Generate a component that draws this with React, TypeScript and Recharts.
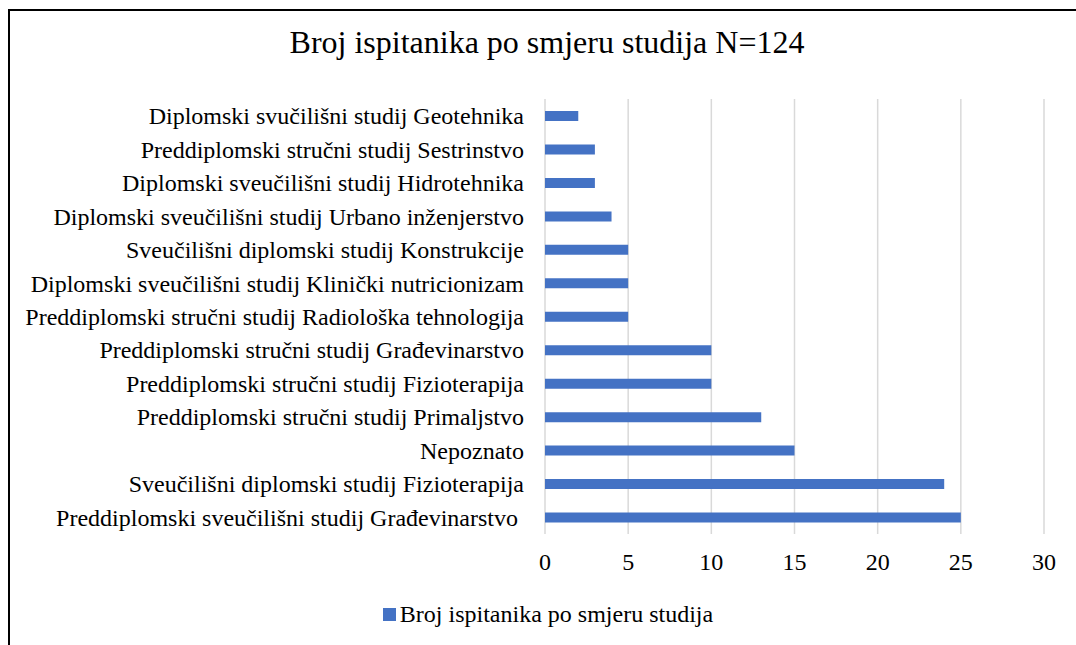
import React from 'react';
import { BarChart, Bar, XAxis, YAxis, CartesianGrid, Legend } from 'recharts';

const categories = [
  'Diplomski svučilišni studij Geotehnika',
  'Preddiplomski stručni studij Sestrinstvo',
  'Diplomski sveučilišni studij Hidrotehnika',
  'Diplomski sveučilišni studij Urbano inženjerstvo',
  'Sveučilišni diplomski studij Konstrukcije',
  'Diplomski sveučilišni studij Klinički nutricionizam',
  'Preddiplomski stručni studij Radiološka tehnologija',
  'Preddiplomski stručni studij Građevinarstvo',
  'Preddiplomski stručni studij Fizioterapija',
  'Preddiplomski stručni studij Primaljstvo',
  'Nepoznato',
  'Sveučilišni diplomski studij Fizioterapija',
  'Preddiplomski sveučilišni studij Građevinarstvo\u00a0',
];
const counts = [2, 3, 3, 4, 5, 5, 5, 10, 10, 13, 15, 24, 25];
const xTicks = [0, 5, 10, 15, 20, 25, 30];

const seriesName = 'Broj ispitanika po smjeru studija';
const title = 'Broj ispitanika po smjeru studija N=124';

const data = categories.map((name, i) => ({ name, value: counts[i] }));

const FONT = '"Liberation Serif", "Times New Roman", serif';

function LegendContent() {
  return (
    <div
      style={{
        height: 40,
        display: 'flex',
        alignItems: 'center',
        justifyContent: 'center',
        transform: 'translateX(26px)',
        fontFamily: FONT,
        fontSize: 24,
        color: '#000',
      }}
    >
      <span style={{ width: 13, height: 13, background: '#4472C4', marginRight: 4, display: 'inline-block' }} />
      <span>{seriesName}</span>
    </div>
  );
}

export default function App() {
  return (
    <div
      style={{
        position: 'fixed',
        left: 0,
        top: 0,
        width: 1076,
        height: 645,
        overflow: 'hidden',
        background: '#fff',
      }}
    >
      <div
        style={{
          position: 'absolute',
          left: 8,
          top: 9,
          width: 1200,
          height: 800,
          borderLeft: '2px solid #000',
          borderTop: '2px solid #000',
        }}
      />
      <div
        style={{
          position: 'absolute',
          left: 47,
          top: 24,
          width: 1000,
          textAlign: 'center',
          fontFamily: FONT,
          fontSize: 32,
          color: '#000',
          lineHeight: 'normal',
        }}
      >
        {title}
      </div>
      <div style={{ position: 'absolute', left: 0, top: 0 }}>
        <BarChart
          width={1076}
          height={645}
          data={data}
          layout="vertical"
          margin={{ top: 99, right: 32, left: 0, bottom: 11 }}
        >
          <CartesianGrid horizontal={false} stroke="#d9d9d9" strokeWidth={1.5} />
          <XAxis
            type="number"
            domain={[0, 30]}
            ticks={xTicks}
            axisLine={false}
            tickLine={false}
            tickMargin={13}
            height={60}
            tick={{ fontFamily: FONT, fontSize: 24, fill: '#000' }}
          />
          <YAxis
            type="category"
            dataKey="name"
            width={545}
            axisLine={false}
            tickLine={false}
            tickMargin={15}
            interval={0}
            tick={{ fontFamily: FONT, fontSize: 24, fill: '#000' }}
          />
          <Legend verticalAlign="bottom" height={40} content={<LegendContent />} />
          <Bar dataKey="value" name={seriesName} fill="#4472C4" barSize={10} isAnimationActive={false} />
        </BarChart>
      </div>
    </div>
  );
}
